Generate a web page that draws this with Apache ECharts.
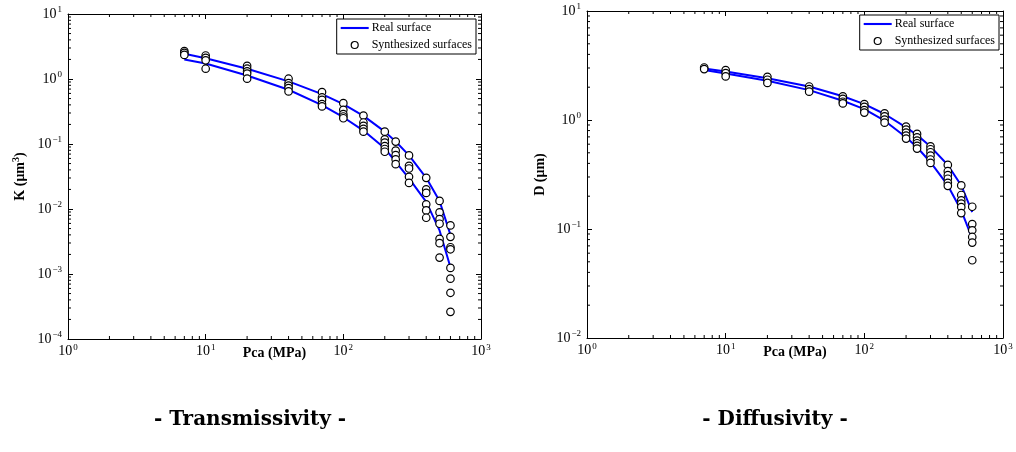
<!DOCTYPE html>
<html>
<head>
<meta charset="utf-8">
<script src="https://cdn.jsdelivr.net/npm/echarts@6/dist/echarts.min.js"></script>
<style>html,body{margin:0;padding:0;background:#fff}#c{width:1016px;height:452px}</style>
</head>
<body>
<div id="c"></div>
<script>
// Pressure values (MPa)
const pca = [7, 10, 20, 40, 70, 100, 140, 200, 240, 300, 400, 500, 600];

// Transmissivity K (µm^3): real surface bounds
const kUpper = [2.44, 2.09, 1.44, 0.92, 0.586, 0.41, 0.271, 0.155, 0.109, 0.0668, 0.0302, 0.0133, 0.0040];
const kLower = [1.99, 1.73, 1.13, 0.684, 0.396, 0.258, 0.161, 0.0857, 0.0533, 0.0295, 0.0129, 0.00468, 0.00127];
// Synthesized surfaces K, one list per pressure
const kSynth = [
  [2.68, 2.52, 2.35],
  [2.30, 2.11, 1.94, 1.44],
  [1.59, 1.44, 1.31, 1.21, 1.01],
  [1.01, 0.867, 0.789, 0.726, 0.645],
  [0.63, 0.52, 0.479, 0.41, 0.378],
  [0.425, 0.336, 0.288, 0.265, 0.249],
  [0.274, 0.214, 0.19, 0.171, 0.155],
  [0.155, 0.118, 0.105, 0.093, 0.0837, 0.076],
  [0.109, 0.0789, 0.0676, 0.0579, 0.049],
  [0.0668, 0.0462, 0.042, 0.0313, 0.0252],
  [0.0302, 0.0201, 0.0177, 0.0118, 0.0095, 0.00734],
  [0.0133, 0.00887, 0.007, 0.00593, 0.00348, 0.00298, 0.00179],
  [0.00559, 0.00373, 0.00258, 0.0024, 0.00124, 0.000847, 0.000514, 0.000262]
];

// Diffusivity D (µm): real surface bounds
const dUpper = [2.97, 2.79, 2.42, 2.03, 1.65, 1.40, 1.135, 0.857, 0.729, 0.570, 0.387, 0.251, 0.143];
const dLower = [2.87, 2.67, 2.29, 1.88, 1.50, 1.26, 0.986, 0.694, 0.562, 0.41, 0.251, 0.148, 0.0816];
// Synthesized surfaces D
const dSynth = [
  [3.03, 2.93],
  [2.87, 2.69, 2.51],
  [2.49, 2.34, 2.19],
  [2.03, 1.92, 1.82],
  [1.65, 1.56, 1.47, 1.42],
  [1.40, 1.32, 1.23, 1.17],
  [1.15, 1.08, 1.01, 0.946],
  [0.869, 0.816, 0.766, 0.719, 0.675],
  [0.745, 0.694, 0.647, 0.612, 0.578, 0.547],
  [0.574, 0.539, 0.506, 0.472, 0.434, 0.404],
  [0.387, 0.339, 0.312, 0.289, 0.265, 0.249],
  [0.251, 0.205, 0.183, 0.171, 0.159, 0.14],
  [0.16, 0.111, 0.0973, 0.0845, 0.075, 0.0517]
];

const xLabel = 'Pca (MPa)';
const kLabel = 'K (μm{s|3})';
const dLabel = 'D (μm)';
const titles = ['- Transmissivity -', '- Diffusivity -'];
const legendNames = ['Real surface', 'Synthesized surfaces'];

const SERIF = '"Liberation Serif", "DejaVu Serif", serif';
const BLUE = '#0000ff';

function pairs(xv, yv) { return xv.map((x, i) => [x, yv[i]]); }
function synthPairs(xv, groups) {
  const out = [];
  groups.forEach((g, i) => g.forEach(v => out.push([xv[i], v])));
  return out;
}
function minorVals(lo, hi) {
  const out = [];
  for (let e = lo; e < hi; e++) for (let k = 2; k <= 9; k++) out.push(k * Math.pow(10, e));
  return out;
}
function expLabel(v) {
  const e = Math.round(Math.log10(v));
  return '{b|10}{s|' + (e < 0 ? '\u2212' + (-e) : e) + '}';
}
const labelRich = {
  b: { fontFamily: SERIF, fontSize: 14, color: '#000' },
  s: { fontFamily: SERIF, fontSize: 9, color: '#000', padding: [0, 0, 8, 1] }
};

function axisPair(kind, gridIndex, min, max, name, nameGap) {
  const main = {
    type: 'log', logBase: 10, gridIndex, min, max,
    position: kind === 'x' ? 'bottom' : 'left',
    axisLine: { show: true, lineStyle: { color: '#000', width: 1 } },
    axisTick: { show: true, inside: true, length: 5, lineStyle: { color: '#000' } },
    axisLabel: { show: true, formatter: expLabel, rich: labelRich, margin: kind === 'x' ? 4 : 6, showMinLabel: true, showMaxLabel: true },
    splitLine: { show: false },
    minorTick: { show: false },
    name, nameLocation: 'middle', nameGap, nameMoveOverlap: false,
    nameTextStyle: {
      fontFamily: SERIF, fontWeight: 'bold', fontSize: 14, color: '#000',
      rich: { s: { fontFamily: SERIF, fontWeight: 'bold', fontSize: 10, padding: [0, 0, 9, 0] } }
    }
  };
  const mirror = {
    type: 'log', logBase: 10, gridIndex, min, max,
    position: kind === 'x' ? 'top' : 'right',
    axisLine: { show: true, lineStyle: { color: '#000', width: 1 } },
    axisTick: { show: true, inside: true, length: 5, lineStyle: { color: '#000' } },
    axisLabel: { show: false },
    splitLine: { show: false }
  };
  return [main, mirror];
}

function minorXSeries(xAxisIndex, yAxisIndex, lo, hi, yMin) {
  return {
    type: 'custom', xAxisIndex, yAxisIndex, silent: true, clip: false, z: 1,
    data: minorVals(lo, hi).map(v => [v, yMin]),
    renderItem: function (params, api) {
      const x = api.coord([api.value(0), api.value(1)])[0];
      const cs = params.coordSys;
      const st = { stroke: '#000', lineWidth: 1 };
      return { type: 'group', children: [
        { type: 'line', shape: { x1: x, y1: cs.y + cs.height, x2: x, y2: cs.y + cs.height - 3 }, style: st },
        { type: 'line', shape: { x1: x, y1: cs.y, x2: x, y2: cs.y + 3 }, style: st }
      ]};
    }
  };
}
function minorYSeries(xAxisIndex, yAxisIndex, lo, hi, xMin) {
  return {
    type: 'custom', xAxisIndex, yAxisIndex, silent: true, clip: false, z: 1,
    data: minorVals(lo, hi).map(v => [xMin, v]),
    renderItem: function (params, api) {
      const y = api.coord([api.value(0), api.value(1)])[1];
      const cs = params.coordSys;
      const st = { stroke: '#000', lineWidth: 1 };
      return { type: 'group', children: [
        { type: 'line', shape: { x1: cs.x, y1: y, x2: cs.x + 3, y2: y }, style: st },
        { type: 'line', shape: { x1: cs.x + cs.width, y1: y, x2: cs.x + cs.width - 3, y2: y }, style: st }
      ]};
    }
  };
}

function lineSeries(xAxisIndex, yAxisIndex, data) {
  return {
    name: legendNames[0], type: 'line', xAxisIndex, yAxisIndex, data,
    showSymbol: false, symbol: 'none', smooth: false, z: 3,
    lineStyle: { color: BLUE, width: 2 }, itemStyle: { color: BLUE }
  };
}
function scatterSeries(xAxisIndex, yAxisIndex, data) {
  return {
    name: legendNames[1], type: 'scatter', xAxisIndex, yAxisIndex, data,
    symbol: 'circle', symbolSize: 7.5, z: 4,
    itemStyle: { color: '#fff', borderColor: '#000', borderWidth: 1.2, opacity: 1 }
  };
}

function legendFor(right, top) {
  return {
    orient: 'vertical', right, top, align: 'left',
    backgroundColor: '#fff', borderColor: '#000', borderWidth: 1,
    padding: [3, 4, 3, 4], itemGap: 5, itemWidth: 28, itemHeight: 7,
    textStyle: { fontFamily: SERIF, fontSize: 12, color: '#000', padding: [0, 0, 0, -2] },
    data: [
      { name: legendNames[0], icon: 'path://M0,0 L40,0 L40,3 L0,3 Z', itemStyle: { color: BLUE } },
      { name: legendNames[1], icon: 'circle', itemStyle: { color: '#fff', borderColor: '#000', borderWidth: 1.2 } }
    ],
    selectedMode: false
  };
}

const kx = axisPair('x', 0, 1, 1000, xLabel, 7);
const ky = axisPair('y', 0, 1e-4, 10, kLabel, 38);
const dx = axisPair('x', 1, 1, 1000, xLabel, 7);
const dy = axisPair('y', 1, 1e-2, 10, dLabel, 40);

const option = {
  animation: false,
  backgroundColor: '#fff',
  grid: [
    { left: 68, top: 14, width: 413, height: 325 },
    { left: 587, top: 11, width: 416, height: 327 }
  ],
  xAxis: [kx[0], kx[1], dx[0], dx[1]],
  yAxis: [ky[0], ky[1], dy[0], dy[1]],
  legend: [legendFor(1016 - 476, 19), legendFor(1016 - 999, 15)],
  title: [
    { text: titles[0], left: 245, top: 405, textAlign: 'center',
      textStyle: { fontFamily: '"DejaVu Serif", serif', fontWeight: 'bold', fontSize: 20, color: '#000' } },
    { text: titles[1], left: 770, top: 405, textAlign: 'center',
      textStyle: { fontFamily: '"DejaVu Serif", serif', fontWeight: 'bold', fontSize: 20, color: '#000' } }
  ],
  series: [
    minorXSeries(0, 0, 0, 3, 1e-4),
    minorYSeries(0, 0, -4, 1, 1),
    lineSeries(0, 0, pairs(pca, kUpper)),
    lineSeries(0, 0, pairs(pca, kLower)),
    scatterSeries(0, 0, synthPairs(pca, kSynth)),
    minorXSeries(2, 2, 0, 3, 1e-2),
    minorYSeries(2, 2, -2, 1, 1),
    lineSeries(2, 2, pairs(pca, dUpper)),
    lineSeries(2, 2, pairs(pca, dLower)),
    scatterSeries(2, 2, synthPairs(pca, dSynth))
  ]
};

const chart = echarts.init(document.getElementById('c'), null, { renderer: 'canvas' });
chart.setOption(option);
</script>
</body>
</html>
